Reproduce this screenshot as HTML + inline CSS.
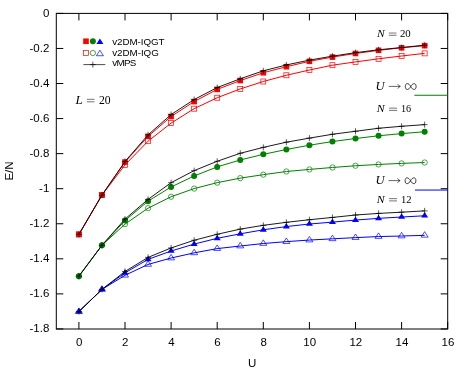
<!DOCTYPE html>
<html><head><meta charset="utf-8"><title>E/N vs U</title>
<style>html,body{margin:0;padding:0;background:#fff;}body{width:467px;height:374px;overflow:hidden;}svg{display:block;will-change:transform;}
text{font-family:"Liberation Sans",sans-serif;fill:#000;}
.s text{font-family:"Liberation Serif",serif;}.i{font-style:italic;}</style></head><body>
<svg width="467" height="374" viewBox="0 0 467 374">
<rect width="467" height="374" fill="#fff"/>
<g stroke="#000" stroke-width="1" fill="none">
<rect x="56.30" y="13.40" width="391.40" height="315.60"/>
<path d="M56.30 13.40h7 M447.70 13.40h-7 M56.30 48.46h7 M447.70 48.46h-7 M56.30 83.52h7 M447.70 83.52h-7 M56.30 118.58h7 M447.70 118.58h-7 M56.30 153.64h7 M447.70 153.64h-7 M56.30 188.70h7 M447.70 188.70h-7 M56.30 223.76h7 M447.70 223.76h-7 M56.30 258.82h7 M447.70 258.82h-7 M56.30 293.88h7 M447.70 293.88h-7 M56.30 328.94h7 M447.70 328.94h-7 M78.90 329.00v-7 M78.90 13.40v7 M125.00 329.00v-7 M125.00 13.40v7 M171.10 329.00v-7 M171.10 13.40v7 M217.20 329.00v-7 M217.20 13.40v7 M263.30 329.00v-7 M263.30 13.40v7 M309.40 329.00v-7 M309.40 13.40v7 M355.50 329.00v-7 M355.50 13.40v7 M401.60 329.00v-7 M401.60 13.40v7 M447.70 329.00v-7 M447.70 13.40v7 "/>
</g>
<g font-size="11.5px" text-anchor="end">
<text x="49.3" y="16.95">0</text>
<text x="49.3" y="52.01">-0.2</text>
<text x="49.3" y="87.07">-0.4</text>
<text x="49.3" y="122.13">-0.6</text>
<text x="49.3" y="157.19">-0.8</text>
<text x="49.3" y="192.25">-1</text>
<text x="49.3" y="227.31">-1.2</text>
<text x="49.3" y="262.37">-1.4</text>
<text x="49.3" y="297.43">-1.6</text>
<text x="49.3" y="332.49">-1.8</text>
</g>
<g font-size="11.5px" text-anchor="middle">
<text x="79.20" y="345.95">0</text>
<text x="125.30" y="345.95">2</text>
<text x="171.40" y="345.95">4</text>
<text x="217.50" y="345.95">6</text>
<text x="263.60" y="345.95">8</text>
<text x="309.70" y="345.95">10</text>
<text x="355.80" y="345.95">12</text>
<text x="401.90" y="345.95">14</text>
<text x="448.00" y="345.95">16</text>
<text x="252.1" y="367.2">U</text>
<text transform="translate(13.4,171.0) rotate(-90)">E/N</text>
</g>
<path d="M414.4 95.25H447.70" stroke="#008000" stroke-width="1" fill="none"/>
<path d="M415 190.05H447.70" stroke="#0000ff" stroke-width="1" fill="none"/>
<polyline points="78.90,234.40 101.95,195.10 125.00,162.05 148.05,136.37 171.10,116.48 194.15,101.58 217.20,89.39 240.25,80.54 263.30,72.76 286.35,66.69 309.40,61.34 332.45,57.08 355.50,53.46 378.55,50.35 401.60,47.79 424.65,45.66" fill="none" stroke="#ff0000" stroke-width="1.00" stroke-linejoin="round"/>
<polyline points="78.90,234.40 101.95,195.10 125.00,164.86 148.05,141.19 171.10,123.14 194.15,108.68 217.20,97.72 240.25,88.95 263.30,81.50 286.35,75.28 309.40,70.02 332.45,65.20 355.50,61.91 378.55,58.80 401.60,56.00 424.65,53.37" fill="none" stroke="#ff0000" stroke-width="1.00" stroke-linejoin="round"/>
<polyline points="78.90,276.17 101.95,245.30 125.00,220.60 148.05,201.15 171.10,186.95 194.15,175.99 217.20,166.89 240.25,159.95 263.30,154.34 286.35,149.50 309.40,145.23 332.45,141.54 355.50,138.53 378.55,135.76 401.60,133.62 424.65,131.73" fill="none" stroke="#008000" stroke-width="1.00" stroke-linejoin="round"/>
<polyline points="78.90,276.17 101.95,245.30 125.00,224.11 148.05,208.16 171.10,196.76 194.15,188.58 217.20,182.67 240.25,178.13 263.30,174.68 286.35,171.52 309.40,169.42 332.45,167.49 355.50,165.74 378.55,164.46 401.60,163.39 424.65,162.53" fill="none" stroke="#008000" stroke-width="1.00" stroke-linejoin="round"/>
<polyline points="78.90,311.59 101.95,289.41 125.00,272.84 148.05,259.35 171.10,251.00 194.15,244.09 217.20,238.31 240.25,233.82 263.30,229.81 286.35,226.56 309.40,224.02 332.45,222.11 355.50,220.08 378.55,218.33 401.60,217.03 424.65,215.78" fill="none" stroke="#0000ff" stroke-width="1.00" stroke-linejoin="round"/>
<polyline points="78.90,311.59 101.95,289.41 125.00,275.30 148.05,264.43 171.10,258.03 194.15,252.86 217.20,248.60 240.25,246.02 263.30,243.52 286.35,241.64 309.40,240.06 332.45,238.84 355.50,237.61 378.55,236.56 401.60,236.03 424.65,235.33" fill="none" stroke="#0000ff" stroke-width="1.00" stroke-linejoin="round"/>
<rect x="76.10" y="231.60" width="5.60" height="5.60" fill="#ff0000"/>
<rect x="99.15" y="192.30" width="5.60" height="5.60" fill="#ff0000"/>
<rect x="122.20" y="159.25" width="5.60" height="5.60" fill="#ff0000"/>
<rect x="145.25" y="133.57" width="5.60" height="5.60" fill="#ff0000"/>
<rect x="168.30" y="113.68" width="5.60" height="5.60" fill="#ff0000"/>
<rect x="191.35" y="98.78" width="5.60" height="5.60" fill="#ff0000"/>
<rect x="214.40" y="86.59" width="5.60" height="5.60" fill="#ff0000"/>
<rect x="237.45" y="77.74" width="5.60" height="5.60" fill="#ff0000"/>
<rect x="260.50" y="69.96" width="5.60" height="5.60" fill="#ff0000"/>
<rect x="283.55" y="63.89" width="5.60" height="5.60" fill="#ff0000"/>
<rect x="306.60" y="58.54" width="5.60" height="5.60" fill="#ff0000"/>
<rect x="329.65" y="54.28" width="5.60" height="5.60" fill="#ff0000"/>
<rect x="352.70" y="50.66" width="5.60" height="5.60" fill="#ff0000"/>
<rect x="375.75" y="47.55" width="5.60" height="5.60" fill="#ff0000"/>
<rect x="398.80" y="44.99" width="5.60" height="5.60" fill="#ff0000"/>
<rect x="421.85" y="42.86" width="5.60" height="5.60" fill="#ff0000"/>
<rect x="76.40" y="231.90" width="5.00" height="5.00" fill="none" stroke="#ff0000" stroke-width="0.7"/>
<rect x="99.45" y="192.60" width="5.00" height="5.00" fill="none" stroke="#ff0000" stroke-width="0.7"/>
<rect x="122.50" y="162.36" width="5.00" height="5.00" fill="none" stroke="#ff0000" stroke-width="0.7"/>
<rect x="145.55" y="138.69" width="5.00" height="5.00" fill="none" stroke="#ff0000" stroke-width="0.7"/>
<rect x="168.60" y="120.64" width="5.00" height="5.00" fill="none" stroke="#ff0000" stroke-width="0.7"/>
<rect x="191.65" y="106.18" width="5.00" height="5.00" fill="none" stroke="#ff0000" stroke-width="0.7"/>
<rect x="214.70" y="95.22" width="5.00" height="5.00" fill="none" stroke="#ff0000" stroke-width="0.7"/>
<rect x="237.75" y="86.45" width="5.00" height="5.00" fill="none" stroke="#ff0000" stroke-width="0.7"/>
<rect x="260.80" y="79.00" width="5.00" height="5.00" fill="none" stroke="#ff0000" stroke-width="0.7"/>
<rect x="283.85" y="72.78" width="5.00" height="5.00" fill="none" stroke="#ff0000" stroke-width="0.7"/>
<rect x="306.90" y="67.52" width="5.00" height="5.00" fill="none" stroke="#ff0000" stroke-width="0.7"/>
<rect x="329.95" y="62.70" width="5.00" height="5.00" fill="none" stroke="#ff0000" stroke-width="0.7"/>
<rect x="353.00" y="59.41" width="5.00" height="5.00" fill="none" stroke="#ff0000" stroke-width="0.7"/>
<rect x="376.05" y="56.30" width="5.00" height="5.00" fill="none" stroke="#ff0000" stroke-width="0.7"/>
<rect x="399.10" y="53.50" width="5.00" height="5.00" fill="none" stroke="#ff0000" stroke-width="0.7"/>
<rect x="422.15" y="50.87" width="5.00" height="5.00" fill="none" stroke="#ff0000" stroke-width="0.7"/>
<circle cx="78.90" cy="276.17" r="3.0" fill="#008000"/>
<circle cx="101.95" cy="245.30" r="3.0" fill="#008000"/>
<circle cx="125.00" cy="220.60" r="3.0" fill="#008000"/>
<circle cx="148.05" cy="201.15" r="3.0" fill="#008000"/>
<circle cx="171.10" cy="186.95" r="3.0" fill="#008000"/>
<circle cx="194.15" cy="175.99" r="3.0" fill="#008000"/>
<circle cx="217.20" cy="166.89" r="3.0" fill="#008000"/>
<circle cx="240.25" cy="159.95" r="3.0" fill="#008000"/>
<circle cx="263.30" cy="154.34" r="3.0" fill="#008000"/>
<circle cx="286.35" cy="149.50" r="3.0" fill="#008000"/>
<circle cx="309.40" cy="145.23" r="3.0" fill="#008000"/>
<circle cx="332.45" cy="141.54" r="3.0" fill="#008000"/>
<circle cx="355.50" cy="138.53" r="3.0" fill="#008000"/>
<circle cx="378.55" cy="135.76" r="3.0" fill="#008000"/>
<circle cx="401.60" cy="133.62" r="3.0" fill="#008000"/>
<circle cx="424.65" cy="131.73" r="3.0" fill="#008000"/>
<circle cx="78.90" cy="276.17" r="2.65" fill="none" stroke="#008000" stroke-width="0.7"/>
<circle cx="101.95" cy="245.30" r="2.65" fill="none" stroke="#008000" stroke-width="0.7"/>
<circle cx="125.00" cy="224.11" r="2.65" fill="none" stroke="#008000" stroke-width="0.7"/>
<circle cx="148.05" cy="208.16" r="2.65" fill="none" stroke="#008000" stroke-width="0.7"/>
<circle cx="171.10" cy="196.76" r="2.65" fill="none" stroke="#008000" stroke-width="0.7"/>
<circle cx="194.15" cy="188.58" r="2.65" fill="none" stroke="#008000" stroke-width="0.7"/>
<circle cx="217.20" cy="182.67" r="2.65" fill="none" stroke="#008000" stroke-width="0.7"/>
<circle cx="240.25" cy="178.13" r="2.65" fill="none" stroke="#008000" stroke-width="0.7"/>
<circle cx="263.30" cy="174.68" r="2.65" fill="none" stroke="#008000" stroke-width="0.7"/>
<circle cx="286.35" cy="171.52" r="2.65" fill="none" stroke="#008000" stroke-width="0.7"/>
<circle cx="309.40" cy="169.42" r="2.65" fill="none" stroke="#008000" stroke-width="0.7"/>
<circle cx="332.45" cy="167.49" r="2.65" fill="none" stroke="#008000" stroke-width="0.7"/>
<circle cx="355.50" cy="165.74" r="2.65" fill="none" stroke="#008000" stroke-width="0.7"/>
<circle cx="378.55" cy="164.46" r="2.65" fill="none" stroke="#008000" stroke-width="0.7"/>
<circle cx="401.60" cy="163.39" r="2.65" fill="none" stroke="#008000" stroke-width="0.7"/>
<circle cx="424.65" cy="162.53" r="2.65" fill="none" stroke="#008000" stroke-width="0.7"/>
<polygon points="78.90,307.92 75.40,313.42 82.40,313.42" fill="#0000ff"/>
<polygon points="101.95,285.74 98.45,291.24 105.45,291.24" fill="#0000ff"/>
<polygon points="125.00,269.18 121.50,274.68 128.50,274.68" fill="#0000ff"/>
<polygon points="148.05,255.68 144.55,261.18 151.55,261.18" fill="#0000ff"/>
<polygon points="171.10,247.33 167.60,252.83 174.60,252.83" fill="#0000ff"/>
<polygon points="194.15,240.43 190.65,245.93 197.65,245.93" fill="#0000ff"/>
<polygon points="217.20,234.64 213.70,240.14 220.70,240.14" fill="#0000ff"/>
<polygon points="240.25,230.16 236.75,235.66 243.75,235.66" fill="#0000ff"/>
<polygon points="263.30,226.14 259.80,231.64 266.80,231.64" fill="#0000ff"/>
<polygon points="286.35,222.90 282.85,228.40 289.85,228.40" fill="#0000ff"/>
<polygon points="309.40,220.36 305.90,225.86 312.90,225.86" fill="#0000ff"/>
<polygon points="332.45,218.45 328.95,223.95 335.95,223.95" fill="#0000ff"/>
<polygon points="355.50,216.41 352.00,221.91 359.00,221.91" fill="#0000ff"/>
<polygon points="378.55,214.66 375.05,220.16 382.05,220.16" fill="#0000ff"/>
<polygon points="401.60,213.36 398.10,218.86 405.10,218.86" fill="#0000ff"/>
<polygon points="424.65,212.12 421.15,217.62 428.15,217.62" fill="#0000ff"/>
<polygon points="78.90,307.92 75.40,313.42 82.40,313.42" fill="none" stroke="#0000ff" stroke-width="0.7"/>
<polygon points="101.95,285.74 98.45,291.24 105.45,291.24" fill="none" stroke="#0000ff" stroke-width="0.7"/>
<polygon points="125.00,271.63 121.50,277.13 128.50,277.13" fill="none" stroke="#0000ff" stroke-width="0.7"/>
<polygon points="148.05,260.76 144.55,266.26 151.55,266.26" fill="none" stroke="#0000ff" stroke-width="0.7"/>
<polygon points="171.10,254.36 167.60,259.86 174.60,259.86" fill="none" stroke="#0000ff" stroke-width="0.7"/>
<polygon points="194.15,249.19 190.65,254.69 197.65,254.69" fill="none" stroke="#0000ff" stroke-width="0.7"/>
<polygon points="217.20,244.93 213.70,250.43 220.70,250.43" fill="none" stroke="#0000ff" stroke-width="0.7"/>
<polygon points="240.25,242.36 236.75,247.86 243.75,247.86" fill="none" stroke="#0000ff" stroke-width="0.7"/>
<polygon points="263.30,239.85 259.80,245.35 266.80,245.35" fill="none" stroke="#0000ff" stroke-width="0.7"/>
<polygon points="286.35,237.97 282.85,243.47 289.85,243.47" fill="none" stroke="#0000ff" stroke-width="0.7"/>
<polygon points="309.40,236.40 305.90,241.90 312.90,241.90" fill="none" stroke="#0000ff" stroke-width="0.7"/>
<polygon points="332.45,235.17 328.95,240.67 335.95,240.67" fill="none" stroke="#0000ff" stroke-width="0.7"/>
<polygon points="355.50,233.94 352.00,239.44 359.00,239.44" fill="none" stroke="#0000ff" stroke-width="0.7"/>
<polygon points="378.55,232.89 375.05,238.39 382.05,238.39" fill="none" stroke="#0000ff" stroke-width="0.7"/>
<polygon points="401.60,232.36 398.10,237.86 405.10,237.86" fill="none" stroke="#0000ff" stroke-width="0.7"/>
<polygon points="424.65,231.66 421.15,237.16 428.15,237.16" fill="none" stroke="#0000ff" stroke-width="0.7"/>
<polyline points="78.90,234.40 101.95,195.10 125.00,161.53 148.05,134.88 171.10,114.55 194.15,99.56 217.20,87.55 240.25,78.79 263.30,70.81 286.35,64.94 309.40,60.12 332.45,56.17 355.50,52.67 378.55,49.79 401.60,47.50 424.65,45.20" fill="none" stroke="#000000" stroke-width="0.90" stroke-linejoin="round"/>
<path d="M75.90 234.40H81.90M78.90 231.40V237.40" stroke="#000000" stroke-width="0.65" fill="none"/>
<path d="M98.95 195.10H104.95M101.95 192.10V198.10" stroke="#000000" stroke-width="0.65" fill="none"/>
<path d="M122.00 161.53H128.00M125.00 158.53V164.53" stroke="#000000" stroke-width="0.65" fill="none"/>
<path d="M145.05 134.88H151.05M148.05 131.88V137.88" stroke="#000000" stroke-width="0.65" fill="none"/>
<path d="M168.10 114.55H174.10M171.10 111.55V117.55" stroke="#000000" stroke-width="0.65" fill="none"/>
<path d="M191.15 99.56H197.15M194.15 96.56V102.56" stroke="#000000" stroke-width="0.65" fill="none"/>
<path d="M214.20 87.55H220.20M217.20 84.55V90.55" stroke="#000000" stroke-width="0.65" fill="none"/>
<path d="M237.25 78.79H243.25M240.25 75.79V81.79" stroke="#000000" stroke-width="0.65" fill="none"/>
<path d="M260.30 70.81H266.30M263.30 67.81V73.81" stroke="#000000" stroke-width="0.65" fill="none"/>
<path d="M283.35 64.94H289.35M286.35 61.94V67.94" stroke="#000000" stroke-width="0.65" fill="none"/>
<path d="M306.40 60.12H312.40M309.40 57.12V63.12" stroke="#000000" stroke-width="0.65" fill="none"/>
<path d="M329.45 56.17H335.45M332.45 53.17V59.17" stroke="#000000" stroke-width="0.65" fill="none"/>
<path d="M352.50 52.67H358.50M355.50 49.67V55.67" stroke="#000000" stroke-width="0.65" fill="none"/>
<path d="M375.55 49.79H381.55M378.55 46.79V52.79" stroke="#000000" stroke-width="0.65" fill="none"/>
<path d="M398.60 47.50H404.60M401.60 44.50V50.50" stroke="#000000" stroke-width="0.65" fill="none"/>
<path d="M421.65 45.20H427.65M424.65 42.20V48.20" stroke="#000000" stroke-width="0.65" fill="none"/>
<polyline points="78.90,276.17 101.95,245.30 125.00,219.11 148.05,199.39 171.10,182.67 194.15,170.64 217.20,161.28 240.25,153.29 263.30,147.38 286.35,142.19 309.40,138.11 332.45,134.27 355.50,131.27 378.55,128.27 401.60,126.29 424.65,124.63" fill="none" stroke="#000000" stroke-width="0.90" stroke-linejoin="round"/>
<path d="M75.90 276.17H81.90M78.90 273.17V279.17" stroke="#000000" stroke-width="0.65" fill="none"/>
<path d="M98.95 245.30H104.95M101.95 242.30V248.30" stroke="#000000" stroke-width="0.65" fill="none"/>
<path d="M122.00 219.11H128.00M125.00 216.11V222.11" stroke="#000000" stroke-width="0.65" fill="none"/>
<path d="M145.05 199.39H151.05M148.05 196.39V202.39" stroke="#000000" stroke-width="0.65" fill="none"/>
<path d="M168.10 182.67H174.10M171.10 179.67V185.67" stroke="#000000" stroke-width="0.65" fill="none"/>
<path d="M191.15 170.64H197.15M194.15 167.64V173.64" stroke="#000000" stroke-width="0.65" fill="none"/>
<path d="M214.20 161.28H220.20M217.20 158.28V164.28" stroke="#000000" stroke-width="0.65" fill="none"/>
<path d="M237.25 153.29H243.25M240.25 150.29V156.29" stroke="#000000" stroke-width="0.65" fill="none"/>
<path d="M260.30 147.38H266.30M263.30 144.38V150.38" stroke="#000000" stroke-width="0.65" fill="none"/>
<path d="M283.35 142.19H289.35M286.35 139.19V145.19" stroke="#000000" stroke-width="0.65" fill="none"/>
<path d="M306.40 138.11H312.40M309.40 135.11V141.11" stroke="#000000" stroke-width="0.65" fill="none"/>
<path d="M329.45 134.27H335.45M332.45 131.27V137.27" stroke="#000000" stroke-width="0.65" fill="none"/>
<path d="M352.50 131.27H358.50M355.50 128.27V134.27" stroke="#000000" stroke-width="0.65" fill="none"/>
<path d="M375.55 128.27H381.55M378.55 125.27V131.27" stroke="#000000" stroke-width="0.65" fill="none"/>
<path d="M398.60 126.29H404.60M401.60 123.29V129.29" stroke="#000000" stroke-width="0.65" fill="none"/>
<path d="M421.65 124.63H427.65M424.65 121.63V127.63" stroke="#000000" stroke-width="0.65" fill="none"/>
<polyline points="78.90,311.59 101.95,289.41 125.00,271.44 148.05,257.42 171.10,247.95 194.15,240.24 217.20,234.28 240.25,229.11 263.30,225.34 286.35,222.32 309.40,219.73 332.45,217.45 355.50,215.00 378.55,213.42 401.60,212.19 424.65,210.88" fill="none" stroke="#000000" stroke-width="0.90" stroke-linejoin="round"/>
<path d="M75.90 311.59H81.90M78.90 308.59V314.59" stroke="#000000" stroke-width="0.65" fill="none"/>
<path d="M98.95 289.41H104.95M101.95 286.41V292.41" stroke="#000000" stroke-width="0.65" fill="none"/>
<path d="M122.00 271.44H128.00M125.00 268.44V274.44" stroke="#000000" stroke-width="0.65" fill="none"/>
<path d="M145.05 257.42H151.05M148.05 254.42V260.42" stroke="#000000" stroke-width="0.65" fill="none"/>
<path d="M168.10 247.95H174.10M171.10 244.95V250.95" stroke="#000000" stroke-width="0.65" fill="none"/>
<path d="M191.15 240.24H197.15M194.15 237.24V243.24" stroke="#000000" stroke-width="0.65" fill="none"/>
<path d="M214.20 234.28H220.20M217.20 231.28V237.28" stroke="#000000" stroke-width="0.65" fill="none"/>
<path d="M237.25 229.11H243.25M240.25 226.11V232.11" stroke="#000000" stroke-width="0.65" fill="none"/>
<path d="M260.30 225.34H266.30M263.30 222.34V228.34" stroke="#000000" stroke-width="0.65" fill="none"/>
<path d="M283.35 222.32H289.35M286.35 219.32V225.32" stroke="#000000" stroke-width="0.65" fill="none"/>
<path d="M306.40 219.73H312.40M309.40 216.73V222.73" stroke="#000000" stroke-width="0.65" fill="none"/>
<path d="M329.45 217.45H335.45M332.45 214.45V220.45" stroke="#000000" stroke-width="0.65" fill="none"/>
<path d="M352.50 215.00H358.50M355.50 212.00V218.00" stroke="#000000" stroke-width="0.65" fill="none"/>
<path d="M375.55 213.42H381.55M378.55 210.42V216.42" stroke="#000000" stroke-width="0.65" fill="none"/>
<path d="M398.60 212.19H404.60M401.60 209.19V215.19" stroke="#000000" stroke-width="0.65" fill="none"/>
<path d="M421.65 210.88H427.65M424.65 207.88V213.88" stroke="#000000" stroke-width="0.65" fill="none"/>
<rect x="83.20" y="38.45" width="5.60" height="5.60" fill="#ff0000"/>
<circle cx="92.85" cy="41.25" r="3.0" fill="#008000"/>
<polygon points="99.90,38.43 96.40,43.93 103.40,43.93" fill="#0000ff"/>
<rect x="83.50" y="50.50" width="5.00" height="5.00" fill="none" stroke="#ff0000" stroke-width="0.7"/>
<circle cx="92.85" cy="53.00" r="2.65" fill="none" stroke="#008000" stroke-width="0.7"/>
<polygon points="99.90,50.23 96.40,55.73 103.40,55.73" fill="none" stroke="#0000ff" stroke-width="0.7"/>
<path d="M83.4 64.6H105.3" stroke="#000" stroke-width="0.7" fill="none"/>
<path d="M89.85 64.60H95.85M92.85 61.60V67.60" stroke="#000000" stroke-width="0.65" fill="none"/>
<g font-size="9.8px">
<text x="112.2" y="44.55" textLength="52.3" lengthAdjust="spacing">v2DM-IQGT</text>
<text x="112.2" y="55.5" textLength="46.6" lengthAdjust="spacing">v2DM-IQG</text>
<text x="112.2" y="65.5" textLength="24.2" lengthAdjust="spacing">vMPS</text>
</g>
<g class="s" font-size="12.0px"><text class="i" x="75.60" y="103.80" textLength="7.20" lengthAdjust="spacingAndGlyphs">L</text><path d="M86.90 99.30H94.50M86.90 101.80H94.50" stroke="#000" stroke-width="0.55" fill="none"/><text x="99.00" y="103.80" textLength="11.70" lengthAdjust="spacingAndGlyphs">20</text></g>
<g class="s" font-size="10.8px"><text class="i" x="376.90" y="37.10" textLength="7.70" lengthAdjust="spacingAndGlyphs">N</text><path d="M388.80 33.05H396.50M388.80 35.30H396.50" stroke="#000" stroke-width="0.55" fill="none"/><text x="399.90" y="37.10" textLength="10.80" lengthAdjust="spacingAndGlyphs">20</text></g>
<g class="s" font-size="10.8px"><text class="i" x="376.70" y="112.20" textLength="7.90" lengthAdjust="spacingAndGlyphs">N</text><path d="M389.10 108.15H397.00M389.10 110.40H397.00" stroke="#000" stroke-width="0.55" fill="none"/><text x="401.00" y="112.20" textLength="10.20" lengthAdjust="spacingAndGlyphs">16</text></g>
<g class="s" font-size="10.8px"><text class="i" x="376.70" y="202.70" textLength="7.90" lengthAdjust="spacingAndGlyphs">N</text><path d="M389.10 198.65H397.00M389.10 200.90H397.00" stroke="#000" stroke-width="0.55" fill="none"/><text x="401.00" y="202.70" textLength="10.60" lengthAdjust="spacingAndGlyphs">12</text></g>
<g class="s" font-size="13px"><text class="i" x="375.60" y="89.70" textLength="9.1" lengthAdjust="spacingAndGlyphs">U</text></g><path d="M388.70 86.40H400.30 M397.70 84.10Q398.60 85.90 400.30 86.40Q398.60 86.90 397.70 88.70" stroke="#000" stroke-width="0.6" fill="none"/><path d="M410.70 86.55C412.70 82.65 416.10 82.65 416.10 86.55C416.10 90.45 412.70 90.45 410.70 86.55C408.70 82.65 405.30 82.65 405.30 86.55C405.30 90.45 408.70 90.45 410.70 86.55Z" stroke="#000" stroke-width="0.75" fill="none"/>
<g class="s" font-size="13px"><text class="i" x="375.40" y="183.90" textLength="9.1" lengthAdjust="spacingAndGlyphs">U</text></g><path d="M388.50 180.60H400.10 M397.50 178.30Q398.40 180.10 400.10 180.60Q398.40 181.10 397.50 182.90" stroke="#000" stroke-width="0.6" fill="none"/><path d="M410.50 180.75C412.50 176.85 415.90 176.85 415.90 180.75C415.90 184.65 412.50 184.65 410.50 180.75C408.50 176.85 405.10 176.85 405.10 180.75C405.10 184.65 408.50 184.65 410.50 180.75Z" stroke="#000" stroke-width="0.75" fill="none"/>
</svg></body></html>
